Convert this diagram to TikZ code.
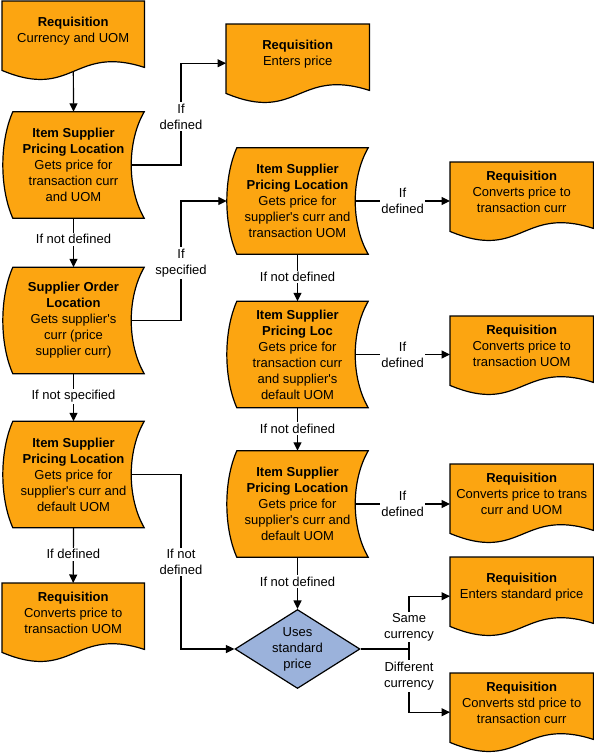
\documentclass[tikz,border=0pt]{standalone}
\usepackage{fontspec}
\setmainfont{Liberation Sans}[Ligatures=TeXOff]
\usetikzlibrary{shapes.geometric,arrows.meta,calc}
\pgfdeclarelayer{connlayer}
\pgfdeclarelayer{shapelayer}
\pgfsetlayers{connlayer,shapelayer,main}
\definecolor{shapeorange}{RGB}{252,165,17}
\definecolor{diablue}{RGB}{155,178,219}
\tikzset{
  txt/.style={font=\fontsize{13}{16}\selectfont, align=center, inner sep=0pt, text=black},
  docbox/.style={inner sep=0pt, minimum height=78pt, anchor=north west},
  storebox/.style={txt, minimum width=141pt, minimum height=106pt},
  outline/.style={draw=black, line width=1.2pt, fill=shapeorange},
  conn/.style={line width=1.2pt, draw=black},
  arr/.style={conn, -{Triangle[length=8.5pt,width=8pt]}},
  lbl/.style={txt, fill=white, inner sep=1.5pt},
  decision/.style={txt, diamond, aspect=1.58, minimum width=125pt, minimum height=79pt,
    draw=black, line width=1.2pt, fill=diablue},
}
\newcommand\docshape[1]{%
  \begin{pgfonlayer}{shapelayer}
  \path[outline] (#1.north west) -- (#1.north east) -- ([yshift=12pt]#1.south east)
    .. controls ([yshift=35pt]#1.south) and ([yshift=-21pt]#1.south) .. ([yshift=9pt]#1.south west) -- cycle;
  \end{pgfonlayer}}
\newcommand\storeshape[1]{%
  \begin{pgfonlayer}{shapelayer}
  \path[outline] ([xshift=10pt]#1.north west) -- (#1.north east)
    .. controls ([xshift=-17.3pt,yshift=-30pt]#1.north east) and ([xshift=-17.3pt,yshift=30pt]#1.south east) .. (#1.south east)
    -- ([xshift=10pt]#1.south west)
    .. controls ([xshift=-3.3pt,yshift=30pt]#1.south west) and ([xshift=-3.3pt,yshift=-30pt]#1.north west) .. ([xshift=10pt]#1.north west) -- cycle;
  \end{pgfonlayer}}
\begin{document}
\begin{tikzpicture}[x=1pt,y=1pt]
\useasboundingbox (0,0) rectangle (594,-753);

% ---------- documents ----------
\node[docbox, minimum width=142pt] (d1) at (2,-1) {};
\docshape{d1}
\node[txt] (d1t) at ([yshift=9.5pt]d1.center) {\textbf{Requisition}\\Currency and UOM};

\node[docbox, minimum width=143pt] (d2) at (226,-24) {};
\docshape{d2}
\node[txt] (d2t) at ([yshift=9.5pt]d2.center) {\textbf{Requisition}\\Enters price};

\node[docbox, minimum width=142pt] (d3) at (2,-583) {};
\docshape{d3}
\node[txt] (d3t) at ([yshift=9.5pt]d3.center) {\textbf{Requisition}\\Converts price to\\transaction UOM};

\node[docbox, minimum width=143pt] (r1) at (450,-162) {};
\docshape{r1}
\node[txt] (r1t) at ([yshift=9.5pt]r1.center) {\textbf{Requisition}\\Converts price to\\transaction curr};

\node[docbox, minimum width=143pt] (r2) at (450,-316) {};
\docshape{r2}
\node[txt] (r2t) at ([yshift=9.5pt]r2.center) {\textbf{Requisition}\\Converts price to\\transaction UOM};

\node[docbox, minimum width=143pt] (r3) at (450,-464) {};
\docshape{r3}
\node[txt] (r3t) at ([yshift=9.5pt]r3.center) {\textbf{Requisition}\\Converts price to trans\\curr and UOM};

\node[docbox, minimum width=143pt] (r4) at (450,-557) {};
\docshape{r4}
\node[txt] (r4t) at ([yshift=9.5pt]r4.center) {\textbf{Requisition}\\Enters standard price};

\node[docbox, minimum width=143pt] (r5) at (450,-673) {};
\docshape{r5}
\node[txt] (r5t) at ([yshift=9.5pt]r5.center) {\textbf{Requisition}\\Converts std price to\\transaction curr};

% ---------- stored-data shapes ----------
\node[storebox] (isp1) at (73.5,-165) {\textbf{Item Supplier}\\\textbf{Pricing Location}\\Gets price for\\transaction curr\\and UOM};
\storeshape{isp1}
\node[storebox] (sol) at (73.5,-320.5) {\textbf{Supplier Order}\\\textbf{Location}\\Gets supplier's\\curr (price\\supplier curr)};
\storeshape{sol}
\node[storebox] (isp3) at (73.5,-474.5) {\textbf{Item Supplier}\\\textbf{Pricing Location}\\Gets price for\\supplier's curr and\\default UOM};
\storeshape{isp3}

\node[storebox] (isp2) at (297.5,-201) {\textbf{Item Supplier}\\\textbf{Pricing Location}\\Gets price for\\supplier's curr and\\transaction UOM};
\storeshape{isp2}
\node[storebox] (isp4) at (297.5,-354.5) {\textbf{Item Supplier}\\\textbf{Pricing Loc}\\Gets price for\\transaction curr\\and supplier's\\default UOM};
\storeshape{isp4}
\node[storebox] (isp5) at (297.5,-504) {\textbf{Item Supplier}\\\textbf{Pricing Location}\\Gets price for\\supplier's curr and\\default UOM};
\storeshape{isp5}

% ---------- decision ----------
\node[decision] (dia) at (297.5,-649) {Uses\\standard\\price};

% ---------- junction points ----------
\coordinate (j1) at (181,-116.5);
\coordinate (j2) at (181,-263);
\coordinate (j3) at (181,-562);
\coordinate (br) at (409,-649);

% ---------- connectors ----------
\begin{pgfonlayer}{connlayer}
\draw[arr] (d1.center) -- (isp1.north);
\draw[arr] ([xshift=-13pt]isp1.east) -| (j1) |- (d2.west);
\draw[arr] (isp1.south) -- node[lbl,pos=0.43] (l1) {If not defined} (sol.north);
\draw[arr] ([xshift=-13pt]sol.east) -| (j2) |- (isp2.west);
\draw[arr] (sol.south) -- node[lbl,pos=0.48] (l2) {If not specified} (isp3.north);
\draw[arr] (isp3.south) -- node[lbl,pos=0.48] (l3) {If defined} (d3.north);
\draw[arr] ([xshift=-13pt]isp3.east) -| (j3) |- (dia.west);

\draw[arr] ([xshift=-13pt]isp2.east) -- node[lbl,midway] (l4) {If\\defined} (isp2.east -| r1.west);
\draw[arr] (isp2.south) -- node[lbl,pos=0.48] (l5) {If not defined} (isp4.north);
\draw[arr] ([xshift=-13pt]isp4.east) -- node[lbl,midway] (l6) {If\\defined} (isp4.east -| r2.west);
\draw[arr] (isp4.south) -- node[lbl,pos=0.48] (l7) {If not defined} (isp5.north);
\draw[arr] ([xshift=-13pt]isp5.east) -- node[lbl,midway] (l8) {If\\defined} (isp5.east -| r3.west);
\draw[arr] (isp5.south) -- node[lbl,pos=0.47] (l9) {If not defined} (dia.north);

\draw[conn] (dia.east) -- (br);
\draw[arr] (br) |- (r4.west);
\draw[arr] (br) |- (r5.west);
\end{pgfonlayer}

% ---------- elbow labels ----------
\node[lbl] (lj1) at (j1) {If\\defined};
\node[lbl] (lj2) at (j2) {If\\specified};
\node[lbl] (lj3) at (j3) {If not\\defined};
\node[lbl] (lsame) at (409,-627) {Same\\currency};
\node[lbl] (ldiff) at (409,-676) {Different\\currency};
\end{tikzpicture}
\end{document}
